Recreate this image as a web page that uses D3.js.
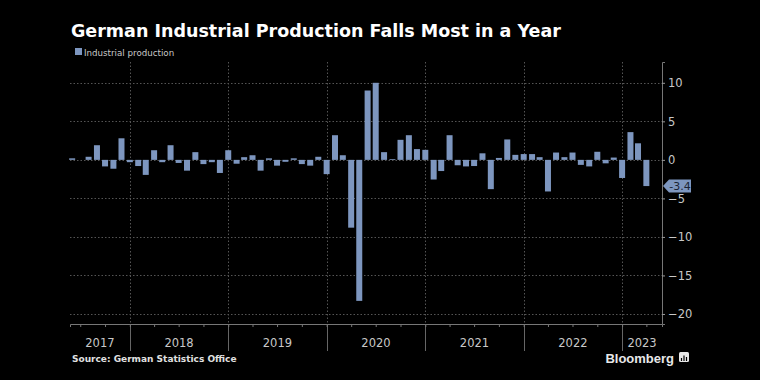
<!DOCTYPE html>
<html>
<head>
<meta charset="utf-8">
<script src="https://cdn.jsdelivr.net/npm/d3@7"></script>
<style>
  html, body { margin: 0; padding: 0; background: #000; }
  svg { display: block; }
</style>
</head>
<body>
<div id="chart"></div>
<script>
// Monthly change in German industrial production, %, May 2017 .. Mar 2023
const firstMonth = "2017-05";
const production = [
  0.2, 0.0, 0.4, 1.9, -0.85, -1.15, 2.8, -0.3,            // 2017
  -0.8, -1.95, 1.25, -0.3, 1.9, -0.4, -1.4, 1.0, -0.55, -0.3, -1.7, 1.25,   // 2018
  -0.5, 0.35, 0.6, -1.4, 0.2, -0.75, -0.25, 0.2, -0.55, -0.75, 0.4, -1.85, // 2019
  3.2, 0.6, -8.8, -18.3, 9.0, 10.0, 1.0, 0.1, 2.6, 3.2, 1.4, 1.3,         // 2020
  -2.55, -1.45, 3.2, -0.7, -0.85, -0.8, 0.85, -3.8, 0.25, 2.65, 0.65, 0.75, // 2021
  0.75, 0.35, -4.1, 0.95, 0.35, 0.95, -0.65, -0.85, 1.05, -0.45, 0.3, -2.35, // 2022
  3.6, 2.15, -3.4                                         // 2023
];
const years = [2017, 2018, 2019, 2020, 2021, 2022, 2023];
const yTicks = [10, 5, 0, -5, -10, -15, -20];
const lastLabel = "-3.4";

const W = 760, H = 380;
const margin = {top: 62, right: 98, bottom: 56, left: 70};
const width = W - margin.left - margin.right,
      height = H - margin.top - margin.bottom;

const barColor = "#7d96bf";
const gridColor = "#555";
const textColor = "#c8c8c8";

const parseMonth = d3.timeParse("%Y-%m");
const start = parseMonth(firstMonth);
// Bloomberg puts the monthly bar on the month's end date
const data = production.map((v, i) => ({
  date: d3.timeMonth.offset(start, i + 1),
  value: v
}));

const svg = d3.select("#chart")
  .append("svg")
    .attr("width", W)
    .attr("height", H)
    .style("background", "#000");

const g = svg.append("g")
    .attr("transform", `translate(${margin.left}, ${margin.top})`);

const xScale = d3.scaleTime()
  .domain([new Date(2017, 4, 24), new Date(2023, 4, 29)])
  .range([0, width]);

const yScale = d3.scaleLinear()
  .domain([-21.3, 12.7])
  .range([height, 0]);

// horizontal gridlines
g.append("g")
  .selectAll("line")
  .data(yTicks)
  .join("line")
    .attr("x1", 0)
    .attr("x2", width)
    .attr("y1", d => Math.round(yScale(d)) + 0.5)
    .attr("y2", d => Math.round(yScale(d)) + 0.5)
    .attr("stroke", gridColor)
    .attr("stroke-dasharray", "1.5,2");

// year boundaries
const yearStarts = years.slice(1).map(y => new Date(y, 0, 1));
g.append("g")
  .selectAll("line")
  .data(yearStarts)
  .join("line")
    .attr("x1", d => Math.round(xScale(d)) + 0.5)
    .attr("x2", d => Math.round(xScale(d)) + 0.5)
    .attr("y1", 0)
    .attr("y2", height)
    .attr("stroke", gridColor)
    .attr("stroke-dasharray", "1.5,2");

g.append("g")
  .selectAll("line")
  .data(yearStarts)
  .join("line")
    .attr("x1", d => Math.round(xScale(d)) + 0.5)
    .attr("x2", d => Math.round(xScale(d)) + 0.5)
    .attr("y1", height)
    .attr("y2", height + 27)
    .attr("stroke", "#666");

// bars
const barW = 6;
g.append("g")
  .selectAll("rect")
  .data(data)
  .join("rect")
    .attr("x", d => xScale(d.date) - barW / 2)
    .attr("width", barW)
    .attr("y", d => yScale(Math.max(0, d.value)))
    .attr("height", d => Math.abs(yScale(d.value) - yScale(0)))
    .attr("fill", barColor);

// x axis with quarterly ticks
const xAxis = g.append("g")
  .attr("transform", `translate(0, ${height})`)
  .call(d3.axisBottom(xScale)
    .ticks(d3.timeMonth.every(3))
    .tickSize(3)
    .tickFormat(""));
xAxis.select(".domain").attr("stroke", "#777");
xAxis.selectAll(".tick line").attr("stroke", "#777");

// year labels centred in the visible part of each year
g.append("g")
  .selectAll("text")
  .data(years)
  .join("text")
    .attr("x", y => {
      const a = Math.max(0, xScale(new Date(y, 0, 1)));
      const b = Math.min(width, xScale(new Date(y + 1, 0, 1)));
      return (a + b) / 2;
    })
    .attr("y", height + 23)
    .attr("text-anchor", "middle")
    .attr("fill", textColor)
    .style("font-family", "DejaVu Sans, sans-serif")
    .style("font-size", "11.5px")
    .text(y => y);

// right y axis
const yAxis = g.append("g")
  .attr("transform", `translate(${width}, 0)`)
  .call(d3.axisRight(yScale)
    .tickValues(yTicks)
    .tickSize(3)
    .tickPadding(3));
yAxis.select(".domain").attr("stroke", "#777");
yAxis.selectAll(".tick line").attr("stroke", "#999");
yAxis.selectAll(".tick text")
  .attr("fill", textColor)
  .style("font-family", "DejaVu Sans, sans-serif")
  .style("font-size", "11.5px");

// last value callout
const last = data[data.length - 1];
const ly = yScale(last.value);
const lab = g.append("g").attr("transform", `translate(${width + 1}, ${ly})`);
lab.append("path")
  .attr("d", "M0,0 L6,-6.5 L28,-6.5 L28,6.5 L6,6.5 Z")
  .attr("fill", barColor);
lab.append("text")
  .attr("x", 17)
  .attr("y", 4)
  .attr("text-anchor", "middle")
  .attr("fill", "#1b2434")
  .style("font-family", "DejaVu Sans, sans-serif")
  .style("font-size", "11px")
  .text(lastLabel);

// title, legend, source
svg.append("text")
  .attr("x", 71)
  .attr("y", 37)
  .attr("fill", "#fff")
  .style("font-family", "DejaVu Sans, sans-serif")
  .style("font-weight", "bold")
  .style("font-size", "17.5px")
  .text("German Industrial Production Falls Most in a Year");

svg.append("rect")
  .attr("x", 75)
  .attr("y", 48)
  .attr("width", 7)
  .attr("height", 7)
  .attr("fill", barColor);
svg.append("text")
  .attr("x", 84)
  .attr("y", 55.5)
  .attr("fill", textColor)
  .style("font-family", "DejaVu Sans, sans-serif")
  .style("font-size", "8.7px")
  .text("Industrial production");

svg.append("text")
  .attr("x", 72)
  .attr("y", 362)
  .attr("fill", "#e0e0e0")
  .style("font-family", "DejaVu Sans, sans-serif")
  .style("font-weight", "bold")
  .style("font-size", "9px")
  .text("Source: German Statistics Office");

svg.append("text")
  .attr("x", 674)
  .attr("y", 363)
  .attr("text-anchor", "end")
  .attr("fill", "#e8e8e8")
  .style("font-family", "Liberation Sans, Arial, sans-serif")
  .style("font-weight", "bold")
  .style("font-size", "13px")
  .text("Bloomberg");

// little chart icon next to the wordmark
const icon = svg.append("g").attr("transform", "translate(679, 352)");
icon.append("rect")
  .attr("width", 10).attr("height", 10).attr("rx", 1.5)
  .attr("fill", "#e8e8e8");
icon.selectAll("line")
  .data([[2.5, 6], [5, 3.5], [7.5, 5]])
  .join("line")
    .attr("x1", d => d[0]).attr("x2", d => d[0])
    .attr("y1", 9).attr("y2", d => d[1])
    .attr("stroke", "#000").attr("stroke-width", 1.2);
</script>
</body>
</html>
